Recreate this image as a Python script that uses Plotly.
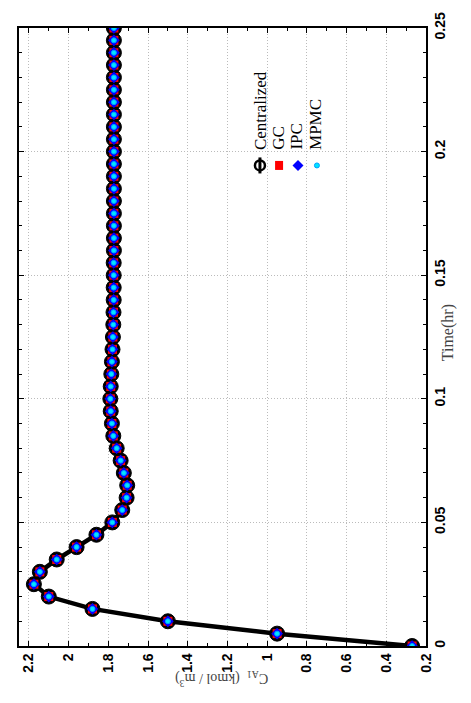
import plotly.graph_objects as go

# ---- data ----
time_hr = [0.0, 0.005, 0.01, 0.015, 0.02, 0.025, 0.03, 0.035, 0.04, 0.045,
           0.05, 0.055, 0.06, 0.065, 0.07, 0.075, 0.08, 0.085, 0.09, 0.095,
           0.1, 0.105, 0.11, 0.115, 0.12, 0.125, 0.13, 0.135, 0.14, 0.145,
           0.15, 0.155, 0.16, 0.165, 0.17, 0.175, 0.18, 0.185, 0.19, 0.195,
           0.2, 0.205, 0.21, 0.215, 0.22, 0.225, 0.23, 0.235, 0.24, 0.245, 0.25]

centralized = [0.27, 0.95, 1.50, 1.88, 2.10, 2.175, 2.145, 2.06, 1.96, 1.86,
               1.78, 1.73, 1.708, 1.705, 1.722, 1.738, 1.758, 1.775, 1.782, 1.788,
               1.79, 1.788, 1.785, 1.782, 1.779, 1.777, 1.775, 1.774, 1.773, 1.773,
               1.773, 1.773, 1.772, 1.772, 1.772, 1.772, 1.772, 1.772, 1.772, 1.772,
               1.772, 1.772, 1.772, 1.772, 1.772, 1.772, 1.772, 1.772, 1.772, 1.772, 1.772]
gc = list(centralized)
ipc = list(centralized)
mpmc = list(centralized)

series_names = ["Centralized", "GC", "IPC", "MPMC"]
x_ticks = [2.2, 2.0, 1.8, 1.6, 1.4, 1.2, 1.0, 0.8, 0.6, 0.4, 0.2]
x_labels = ["2.2", "2", "1.8", "1.6", "1.4", "1.2", "1", "0.8", "0.6", "0.4", "0.2"]
y_ticks = [0, 0.05, 0.1, 0.15, 0.2, 0.25]
y_labels = ["0", "0.05", "0.1", "0.15", "0.2", "0.25"]

fig = go.Figure()
fig.add_trace(go.Scatter(x=centralized, y=time_hr, mode="lines+markers", name=series_names[0],
                         line=dict(color="black", width=4.5),
                         marker=dict(symbol="circle", size=15, color="black",
                                     line=dict(color="black", width=1))))
fig.add_trace(go.Scatter(x=gc, y=time_hr, mode="markers", name=series_names[1],
                         marker=dict(symbol="square", size=9, color="#ff0000",
                                     line=dict(width=0))))
fig.add_trace(go.Scatter(x=ipc, y=time_hr, mode="markers", name=series_names[2],
                         marker=dict(symbol="diamond", size=9, color="#0000ff",
                                     line=dict(width=0))))
fig.add_trace(go.Scatter(x=mpmc, y=time_hr, mode="markers", name=series_names[3],
                         marker=dict(symbol="circle", size=5, color="#00e5ff",
                                     line=dict(color="#00a0ff", width=1))))

tick_font = dict(family="Liberation Sans", size=14, color="black", weight="bold")
serif = "Liberation Serif"

fig.update_layout(
    width=471, height=703,
    margin=dict(l=19, r=45, t=21, b=57),
    paper_bgcolor="white", plot_bgcolor="white",
    showlegend=False,
    xaxis=dict(range=[2.25, 0.2], tickvals=x_ticks,
               ticktext=["<b>%s</b>" % s for s in x_labels], tickangle=-90,
               tickfont=tick_font, ticks="inside", ticklen=5, tickcolor="black",
               showline=True, linecolor="black", linewidth=1.5, mirror="ticks",
               showgrid=True, gridcolor="#bbbbbb", griddash="1px,2px", gridwidth=1,
               zeroline=False,
               minor=dict(dtick=0.1, tick0=0.2, ticks="inside", ticklen=3,
                          tickcolor="black", showgrid=False)),
    yaxis=dict(range=[0, 0.25], tickvals=y_ticks,
               ticktext=["<b>%s</b>" % s for s in y_labels], side="right", tickangle=-90,
               tickfont=tick_font, ticks="inside", ticklen=5, tickcolor="black",
               showline=True, linecolor="black", linewidth=1.5, mirror="ticks",
               showgrid=True, gridcolor="#bbbbbb", griddash="1px,2px", gridwidth=1,
               zeroline=False,
               minor=dict(dtick=0.01, tick0=0, ticks="inside", ticklen=3,
                          tickcolor="black", showgrid=False)),
)

# axis titles (rotated like the reference)
fig.add_annotation(x=1.08, y=0.507, xref="paper", yref="paper", text="Time(hr)",
                   textangle=-90, showarrow=False,
                   font=dict(family=serif, size=16, color="#444444"))
fig.add_annotation(x=0.499, y=-0.072, xref="paper", yref="paper",
                   text="C<sub>A1</sub>  (kmol / m<sup>3</sup>)",
                   textangle=180, showarrow=False,
                   font=dict(family=serif, size=14, color="#444444"))

# legend drawn rotated
leg_text_x = [0.592, 0.639, 0.683, 0.727]
for name, xp in zip(series_names, leg_text_x):
    fig.add_annotation(x=xp, y=0.800, xref="paper", yref="paper", text=name,
                       textangle=-90, showarrow=False, xanchor="center", yanchor="bottom",
                       font=dict(family=serif, size=17, color="black"))

ys = 0.7776
# Centralized: line + open circle
fig.add_shape(type="line", xref="paper", yref="paper", xsizemode="pixel", ysizemode="pixel",
              xanchor=0.592, yanchor=ys, x0=0, x1=0, y0=-8, y1=8,
              line=dict(color="black", width=3))
fig.add_shape(type="circle", xref="paper", yref="paper", xsizemode="pixel", ysizemode="pixel",
              xanchor=0.592, yanchor=ys, x0=-5, x1=5, y0=-5, y1=5,
              line=dict(color="black", width=2.5), fillcolor="rgba(0,0,0,0)")
# GC square
fig.add_shape(type="rect", xref="paper", yref="paper", xsizemode="pixel", ysizemode="pixel",
              xanchor=0.639, yanchor=ys, x0=-4, x1=4, y0=-4.5, y1=4.5,
              line=dict(width=0), fillcolor="#ff0000")
# IPC diamond
fig.add_shape(type="path", xref="paper", yref="paper", xsizemode="pixel", ysizemode="pixel",
              xanchor=0.6855, yanchor=ys, path="M -5.5 0 L 0 5.5 L 5.5 0 L 0 -5.5 Z",
              line=dict(width=0), fillcolor="#0000ff")
# MPMC dot
fig.add_shape(type="circle", xref="paper", yref="paper", xsizemode="pixel", ysizemode="pixel",
              xanchor=0.732, yanchor=ys, x0=-2.5, x1=2.5, y0=-2.5, y1=2.5,
              line=dict(color="#00a0ff", width=1), fillcolor="#00e5ff")

fig.write_html("out.html")
